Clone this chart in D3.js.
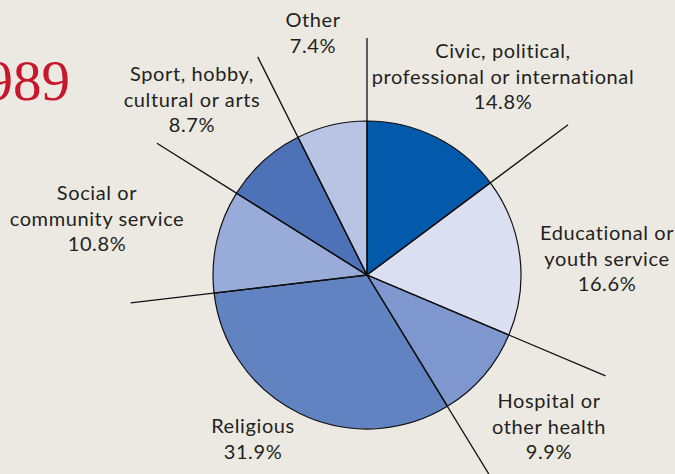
<!DOCTYPE html>
<html>
<head>
<meta charset="utf-8">
<script src="https://cdn.jsdelivr.net/npm/d3@7"></script>
<style>
  html, body { margin: 0; padding: 0; background: #ece9e2; }
  svg { display: block; }
</style>
</head>
<body>
<div id="chart"></div>
<script>
// data, clockwise from 12 o'clock
var categories = [
  ["Civic, political,", "professional or international"],
  ["Educational or", "youth service"],
  ["Hospital or", "other health"],
  ["Religious"],
  ["Social or", "community service"],
  ["Sport, hobby,", "cultural or arts"],
  ["Other"]
];
var shares = [14.8, 16.6, 9.9, 31.9, 10.8, 8.7, 7.4];
var colors = ["#035aab", "#dadff2", "#7f97cf", "#6283c2", "#98abd9", "#4e72b8", "#b9c4e5"];
var yearLabel = "1989";

// layout
var width = 675, height = 474;
var cx = 367, cy = 275, radius = 154;
var leaderLen = [237, 251, 259, 245, 238, 248, 244]; // length of each slice's start edge
var labelPos = [[503, 58], [607, 240], [549, 408], [253, 433], [97, 200], [192, 81], [313, 27]];
var lineH = 25.5;

var svg = d3.select("#chart")
  .append("svg")
    .attr("width", width)
    .attr("height", height);

svg.append("rect")
  .attr("width", width)
  .attr("height", height)
  .attr("fill", "#ece9e2");

// year title, cut off at the left edge as in the original
svg.append("text")
  .attr("x", 70)
  .attr("y", 100)
  .attr("text-anchor", "end")
  .style("font-family", "'Liberation Serif', 'DejaVu Serif', serif")
  .style("font-size", "57px")
  .style("fill", "#c8172b")
  .text(yearLabel);

var pie = d3.pie().sort(null).value(function(d) { return d; });
var arcs = pie(shares);
var arc = d3.arc().innerRadius(0).outerRadius(radius);

var g = svg.append("g")
  .attr("transform", "translate(" + cx + "," + cy + ")");

g.selectAll("path.slice")
  .data(arcs)
  .enter()
  .append("path")
  .attr("class", "slice")
  .attr("d", arc)
  .style("fill", function(d, i) { return colors[i]; })
  .style("stroke", "#111")
  .style("stroke-width", 1.2);

// leader lines along each slice's start edge
g.selectAll("line.leader")
  .data(arcs)
  .enter()
  .append("line")
  .attr("class", "leader")
  .attr("x1", 0)
  .attr("y1", 0)
  .attr("x2", function(d, i) { return Math.sin(d.startAngle) * leaderLen[i]; })
  .attr("y2", function(d, i) { return -Math.cos(d.startAngle) * leaderLen[i]; })
  .style("stroke", "#111")
  .style("stroke-width", 1.3);

// labels
var labels = svg.selectAll("text.label")
  .data(arcs)
  .enter()
  .append("text")
  .attr("class", "label")
  .attr("text-anchor", "middle")
  .style("font-family", "Lato, 'Noto Sans', sans-serif")
  .style("font-size", "20px")
  .style("letter-spacing", "0.6px")
  .style("fill", "#231f20");

labels.each(function(d, i) {
  var t = d3.select(this);
  var lines = categories[i].concat([d3.format(".1f")(shares[i]) + "%"]);
  lines.forEach(function(s, j) {
    t.append("tspan")
      .attr("x", labelPos[i][0])
      .attr("y", labelPos[i][1] + j * lineH)
      .text(s);
  });
});
</script>
</body>
</html>
